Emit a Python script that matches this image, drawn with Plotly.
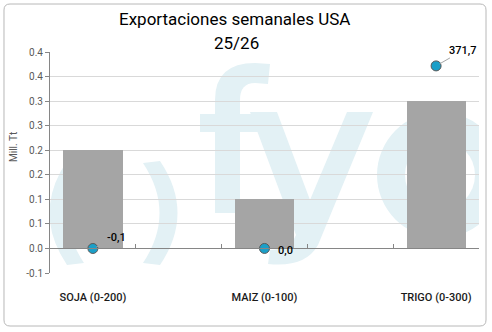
import re
import plotly.graph_objects as go

# ---- data -----------------------------------------------------------------
categories = ["SOJA (0-200)", "MAIZ (0-100)", "TRIGO (0-300)"]
range_top = [0.2, 0.1, 0.3]            # Mill. Tt, upper end of the expected range
weekly_exports = [-0.1, 0.0, 371.7]    # thousand t, reported weekly figure
y_tick_values = [-0.05, 0.0, 0.05, 0.10, 0.15, 0.20, 0.25, 0.30, 0.35, 0.40]
y_tick_labels = ["-0.1", "0.0", "0.1", "0.1", "0.2", "0.2", "0.3", "0.3", "0.4", "0.4"]

# ---- geometry --------------------------------------------------------------
W, H = 492, 332
ML, MR, MT, MB = 50, 13, 52, 59
X_RANGE = [-0.5, 4.5]
Y_RANGE = [-0.05, 0.40]
PLOT_W = W - ML - MR
PLOT_H = H - MT - MB

# each product sits in every other slot, with an empty slot between them
x_pos = [2 * i for i in range(len(categories))]
n_slots = 2 * len(categories) - 1
slot_edges = [i - 0.5 for i in range(n_slots + 1)]
exports_mt = [v / 1000 for v in weekly_exports]


def fmt(v):
    return f"{v:.1f}".replace(".", ",")


def data_x(px):
    return X_RANGE[0] + (px - ML) / PLOT_W * (X_RANGE[1] - X_RANGE[0])


def data_y(py):
    return Y_RANGE[0] + (MT + PLOT_H - py) / PLOT_H * (Y_RANGE[1] - Y_RANGE[0])


def paper_x(px):
    return (px - ML) / PLOT_W


def paper_y(py):
    return (MT + PLOT_H - py) / PLOT_H


def convert_path(path, fx, fy):
    tokens = re.findall(r"[A-Za-z]|-?\d+(?:\.\d+)?", path)
    out, nums = [], []
    for t in tokens:
        if t.isalpha():
            out.append(t)
        else:
            nums.append(float(t))
            if len(nums) == 2:
                out.append(f"{fx(nums[0]):.5f},{fy(nums[1]):.5f}")
                nums = []
    return " ".join(out)


WM = "#e3f1f5"

# faint "( ) fyo" logo behind the plot area (pixel outlines)
logo_paths = [
    # (
    "M 84 163 L 67 161 Q 32 213 67 265 L 84 263 Q 51 213 84 163 Z",
    # )
    "M 143 163 L 160 161 Q 195 213 160 265 L 143 263 Q 176 213 143 163 Z",
    # f
    "M 215 213 L 215 100 Q 215 63 255 63 L 270 64 L 268 84 L 255 83 "
    "Q 240 83 240 100 L 240 213 Z",
    "M 200 114 L 262 114 L 262 132 L 200 132 Z",
    # y
    "M 250 112 L 277 112 L 310 200 L 347 112 L 373 112 L 318 245 "
    "Q 305 268 268 264 L 270 250 Q 290 250 296 235 Z",
]

shapes = []
for p in logo_paths:
    shapes.append(dict(type="path", xref="x", yref="y", layer="below",
                       path=convert_path(p, data_x, data_y),
                       fillcolor=WM, line=dict(width=0)))
# o
cx, cy = 440, 175
for r, col in ((63, WM), (35, "white")):
    shapes.append(dict(type="circle", xref="x", yref="y", layer="below",
                       x0=data_x(cx - r), x1=data_x(cx + r),
                       y0=data_y(cy + r), y1=data_y(cy - r),
                       fillcolor=col, line=dict(width=0)))

# rounded outer frame
frame = ("M 10 4 L 480 4 Q 486 4 486 10 L 486 320 Q 486 326 480 326 "
         "L 10 326 Q 4 326 4 320 L 4 10 Q 4 4 10 4 Z")
shapes.append(dict(type="path", xref="paper", yref="paper", layer="above",
                   path=convert_path(frame, paper_x, paper_y),
                   line=dict(color="#b8b8b8", width=1)))

FONT = "Roboto"

fig = go.Figure()
fig.add_trace(go.Bar(
    x=x_pos, y=range_top, width=[0.69] * len(x_pos),
    marker=dict(color="#a5a5a5", line=dict(width=0)),
    showlegend=False, hoverinfo="skip"))
fig.add_trace(go.Scatter(
    x=x_pos, y=exports_mt, mode="markers",
    marker=dict(size=10, color="#1a9fc8", line=dict(color="#5a5a5a", width=1)),
    showlegend=False, hoverinfo="skip"))
# carries the zero axis with the slot boundary ticks
fig.add_trace(go.Scatter(x=[None], y=[None], xaxis="x2", showlegend=False,
                         hoverinfo="skip"))

# value labels next to each point
label_style = [
    dict(showarrow=True, ax=24, ay=-11),
    dict(showarrow=False, xshift=21, yshift=-2),
    dict(showarrow=True, ax=26, ay=-15),
]
annotations = []
for xp, yv, v, st in zip(x_pos, exports_mt, weekly_exports, label_style):
    a = dict(x=xp, y=yv, xref="x", yref="y", text=fmt(v),
             font=dict(family=FONT, size=11, color="#000000", weight=500),
             arrowhead=0, arrowwidth=1, arrowcolor="#a6a6a6", standoff=4,
             borderpad=0)
    a.update(st)
    annotations.append(a)

# title
annotations.append(dict(x=paper_x(234), y=paper_y(19), xref="paper", yref="paper",
                         text="Exportaciones semanales USA", showarrow=False,
                         xanchor="center", yanchor="middle",
                         font=dict(family=FONT, size=17, color="#000000")))
annotations.append(dict(x=paper_x(236), y=paper_y(43), xref="paper", yref="paper",
                         text="25/26", showarrow=False,
                         xanchor="center", yanchor="middle",
                         font=dict(family=FONT, size=17, color="#000000")))
# y-axis title
annotations.append(dict(x=paper_x(13), y=paper_y(147), xref="paper", yref="paper",
                         text="Mill. Tt", showarrow=False, textangle=-90,
                         xanchor="center", yanchor="middle",
                         font=dict(family=FONT, size=10, color="#595959")))

zero_pos = (0 - Y_RANGE[0]) / (Y_RANGE[1] - Y_RANGE[0])

fig.update_layout(
    width=W, height=H,
    margin=dict(l=ML, r=MR, t=MT, b=MB, pad=0),
    paper_bgcolor="white", plot_bgcolor="white",
    font=dict(family=FONT),
    bargap=0,
    shapes=shapes,
    annotations=annotations,
    xaxis=dict(range=X_RANGE, tickmode="array", tickvals=x_pos, ticktext=categories,
               showgrid=False, zeroline=False, showline=False, ticks="",
               ticklabelstandoff=16,
               tickfont=dict(family=FONT, size=11, color="#1a1a1a", weight=500)),
    xaxis2=dict(range=X_RANGE, overlaying="x", anchor="free", position=zero_pos,
                side="bottom", tickmode="array", tickvals=slot_edges,
                showticklabels=False, ticks="inside", ticklen=4,
                tickcolor="#868686", showline=True, linecolor="#868686",
                linewidth=1, showgrid=False, zeroline=False),
    yaxis=dict(range=Y_RANGE, tickmode="array", tickvals=y_tick_values,
               ticktext=y_tick_labels, showgrid=True, gridcolor="#d9d9d9",
               gridwidth=1, zeroline=False, showline=True, linecolor="#868686",
               ticks="outside", ticklen=4, tickcolor="#868686",
               tickfont=dict(family=FONT, size=10, color="#595959")),
)

fig.write_html("out.html")
